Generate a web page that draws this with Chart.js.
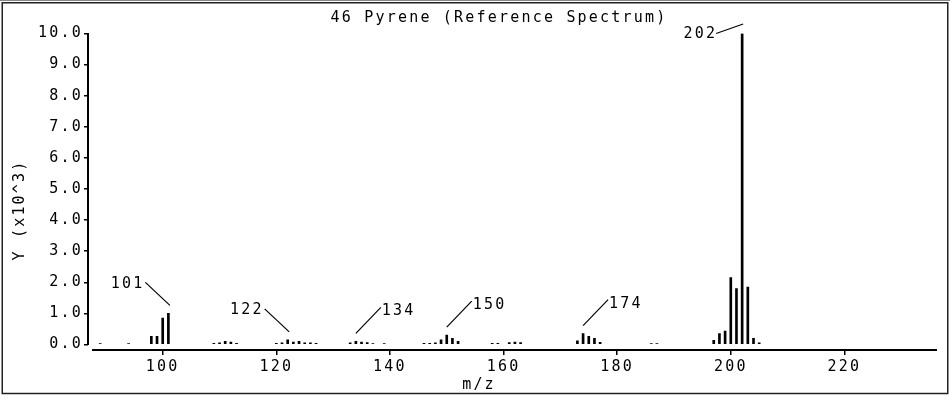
<!DOCTYPE html>
<html>
<head>
<meta charset="utf-8">
<script src="https://cdn.jsdelivr.net/npm/chart.js@4/dist/chart.umd.min.js"></script>
<style>
html,body{margin:0;padding:0;background:#fff;}
canvas{display:block;}
</style>
</head>
<body>
<canvas id="c" width="950" height="395"></canvas>
<script>
// ---- data ----
const mz = [89, 94, 98, 99, 100, 101,
            109, 110, 111, 112, 113,
            120, 121, 122, 123, 124, 125, 126, 127,
            133, 134, 135, 136, 137, 139,
            146, 147, 148, 149, 150, 151, 152,
            158, 159, 161, 162, 163,
            173, 174, 175, 176, 177,
            186, 187,
            197, 198, 199, 200, 201, 202, 203, 204, 205];
const intensity = [0.03, 0.03, 0.26, 0.26, 0.85, 1.0,
                   0.04, 0.05, 0.10, 0.08, 0.04,
                   0.04, 0.05, 0.15, 0.08, 0.10, 0.05, 0.05, 0.04,
                   0.05, 0.10, 0.08, 0.06, 0.03, 0.03,
                   0.04, 0.04, 0.05, 0.15, 0.30, 0.20, 0.10,
                   0.04, 0.04, 0.06, 0.08, 0.06,
                   0.12, 0.35, 0.26, 0.20, 0.07,
                   0.03, 0.03,
                   0.13, 0.35, 0.43, 2.15, 1.80, 10.0, 1.85, 0.20, 0.05];
const peakLabels = [101, 122, 134, 150, 174, 202];
const xTickValues = [100, 120, 140, 160, 180, 200, 220];
const yTickValues = [0, 1, 2, 3, 4, 5, 6, 7, 8, 9, 10];
const titleText = '46 Pyrene (Reference Spectrum)';
const xTitle = 'm/z';
const yTitle = 'Y (x10^3)';

const FONT = '15px "DejaVu Sans Mono", "Liberation Mono", monospace';
const SPACING = '2.2px';

function setSpacing(ctx){ try { ctx.letterSpacing = SPACING; } catch(e){} }

const decor = {
  id: 'decor',
  beforeUpdate(chart){ setSpacing(chart.ctx); },
  beforeDraw(chart){
    const ctx = chart.ctx;
    setSpacing(ctx);
    ctx.save();
    ctx.fillStyle = '#fff';
    ctx.fillRect(0, 0, chart.width, chart.height);
    ctx.restore();
  },
  afterDraw(chart){
    const ctx = chart.ctx;
    const xs = chart.scales.x, ys = chart.scales.y;
    const a = chart.chartArea;
    ctx.save();
    setSpacing(ctx);
    ctx.strokeStyle = '#000';
    ctx.fillStyle = '#000';
    // axis lines
    ctx.lineWidth = 2;
    ctx.beginPath();
    ctx.moveTo(a.left, ys.getPixelForValue(yTickValues[yTickValues.length-1]) - 0.5);
    ctx.lineTo(a.left, ys.getPixelForValue(0) + 0.5);
    ctx.stroke();
    ctx.beginPath();
    ctx.moveTo(a.left + 4, a.bottom);
    ctx.lineTo(a.right, a.bottom);
    ctx.stroke();
    // frame
    ctx.lineWidth = 1;
    ctx.strokeStyle = '#888';
    ctx.beginPath(); ctx.moveTo(0, 0.5); ctx.lineTo(chart.width, 0.5); ctx.stroke();
    ctx.strokeStyle = '#222';
    ctx.lineWidth = 1.5;
    ctx.strokeRect(2.25, 2.75, chart.width - 4.5, chart.height - 4.25);
    // texts
    ctx.font = FONT;
    ctx.textBaseline = 'middle';
    ctx.textAlign = 'center';
    ctx.fillText(titleText, 499, 18);
    ctx.fillText(xTitle, 479, 385);
    ctx.save();
    ctx.translate(20, 210);
    ctx.rotate(-Math.PI/2);
    ctx.fillText(yTitle, 0, 0);
    ctx.restore();
    // peak labels with leader lines
    const side = {101:'upLeft', 122:'upLeft', 134:'upRight', 150:'upRight', 174:'upRight', 202:'left'};
    ctx.lineWidth = 1.2;
    ctx.strokeStyle = '#000';
    peakLabels.forEach(m => {
      const i = mz.indexOf(m);
      const x = xs.getPixelForValue(m);
      const top = ys.getPixelForValue(intensity[i]);
      let x1, y1, x2, y2, tx, ty, align;
      const s = side[m];
      if (s === 'upLeft') {
        x1 = x + 1.5; y1 = top - 8; x2 = x - 23; y2 = top - 31;
        tx = x2 - 1; ty = y2 + 1.5; align = 'right';
      } else if (s === 'upRight') {
        x1 = x; y1 = top - 8; x2 = x + 25; y2 = top - 34;
        tx = x2 + 1; ty = y2 + 4; align = 'left';
      } else {
        x1 = x + 1; y1 = top - 9.5; x2 = x - 26; y2 = top;
        tx = x2 + 1; ty = y2 + 1; align = 'right';
      }
      ctx.beginPath(); ctx.moveTo(x1, y1); ctx.lineTo(x2, y2); ctx.stroke();
      ctx.textAlign = align;
      ctx.fillText(String(m), tx, ty);
    });
    ctx.restore();
  }
};

new Chart(document.getElementById('c'), {
  type: 'bar',
  data: {
    datasets: [{
      data: mz.map((m, i) => ({x: m, y: intensity[i]})),
      backgroundColor: '#000',
      borderWidth: 0,
      barThickness: 2
    }]
  },
  options: {
    responsive: false,
    animation: false,
    events: [],
    layout: { padding: { top: 33.5, right: 13, left: 0, bottom: 0 } },
    plugins: { legend: { display: false }, tooltip: { enabled: false }, title: { display: false } },
    scales: {
      x: {
        type: 'linear',
        offset: false,
        min: 86.85,
        max: 236.3,
        afterFit(s){ s.height = 45; },
        afterBuildTicks(s){ s.ticks = xTickValues.map(v => ({value: v})); },
        grid: { offset: false, drawOnChartArea: false, drawTicks: true, tickLength: 5, color: '#000', lineWidth: 1.5 },
        border: { display: false },
        ticks: {
          color: '#000', font: { family: '"DejaVu Sans Mono", "Liberation Mono", monospace', size: 15 },
          padding: 3, maxRotation: 0, autoSkip: false,
          callback: v => String(v)
        }
      },
      y: {
        type: 'linear',
        min: -0.177,
        max: 10,
        afterFit(s){ s.width = 88; },
        afterBuildTicks(s){ s.ticks = yTickValues.map(v => ({value: v})); },
        grid: { drawOnChartArea: false, drawTicks: true, tickLength: 4, color: '#000', lineWidth: 1.5 },
        border: { display: false },
        ticks: {
          color: '#000', font: { family: '"DejaVu Sans Mono", "Liberation Mono", monospace', size: 15 },
          padding: 1, autoSkip: false,
          callback: v => Number(v).toFixed(1)
        }
      }
    }
  },
  plugins: [decor]
});
</script>
</body>
</html>
